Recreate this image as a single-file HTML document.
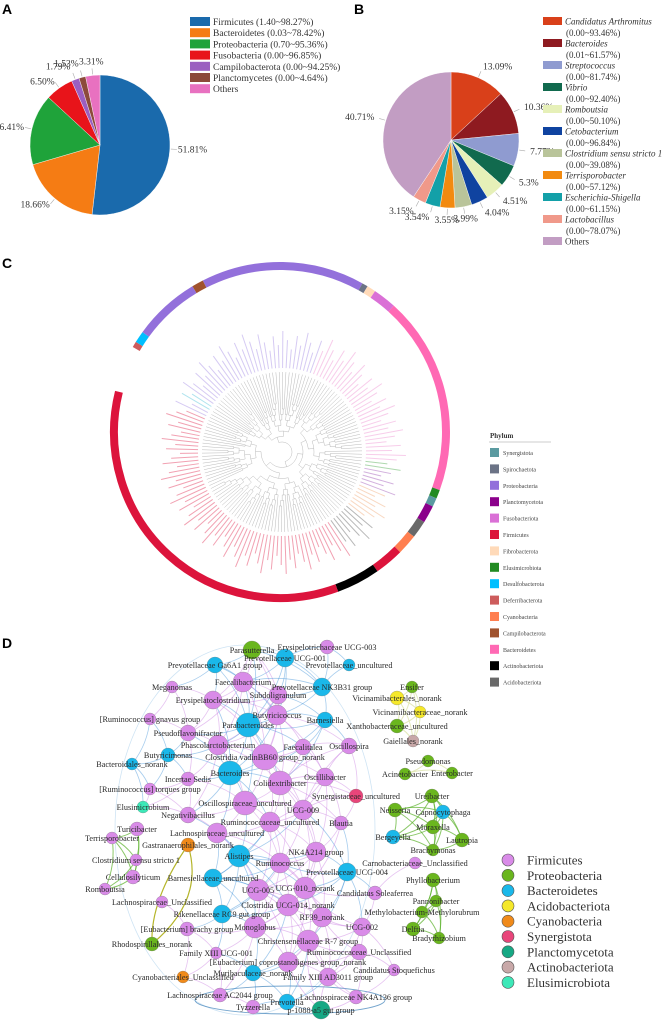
<!DOCTYPE html>
<html><head><meta charset="utf-8"><style>
html,body{margin:0;padding:0;background:#fff;}
svg{display:block;font-family:"Liberation Serif",serif;}
.pl{font-family:"Liberation Sans",sans-serif;font-weight:bold;font-size:14px;}
</style></head><body>
<svg id="fig" width="662" height="1031" viewBox="0 0 662 1031" xmlns="http://www.w3.org/2000/svg">
<text class="pl" x="2" y="14">A</text>
<text class="pl" x="354" y="14">B</text>
<text class="pl" x="2" y="268">C</text>
<text class="pl" x="2" y="648">D</text>
<g id="pieA"></g>
<g id="pieB"></g>
<g id="tree"></g>
<g id="net"></g>
</svg>
<script>
const NS="http://www.w3.org/2000/svg";
function mk(tag,attrs,parent,txt){const e=document.createElementNS(NS,tag);for(const k in attrs)e.setAttribute(k,attrs[k]);if(txt!==undefined)e.textContent=txt;parent.appendChild(e);return e;}

// ---------- Panel A data ----------
const aCategories=["Firmicutes (1.40~98.27%)","Bacteroidetes (0.03~78.42%)","Proteobacteria (0.70~95.36%)","Fusobacteria (0.00~96.85%)","Campilobacterota (0.00~94.25%)","Planctomycetes (0.00~4.64%)","Others"];
const aValues=[51.81,18.66,16.41,6.50,1.79,1.53,3.31];
const aLabels=["51.81%","18.66%","16.41%","6.50%","1.79%","1.53%","3.31%"];
const aColors=["#1a6aac","#f57c14","#1fa33a","#e8141a","#9b5fc0","#8c4a3a","#e871c0"];

// ---------- Panel B data ----------
const bCategories=["Candidatus Arthromitus","Bacteroides","Streptococcus","Vibrio","Romboutsia","Cetobacterium","Clostridium sensu stricto 1","Terrisporobacter","Escherichia-Shigella","Lactobacillus","Others"];
const bRanges=["(0.00~93.46%)","(0.01~61.57%)","(0.00~81.74%)","(0.00~92.40%)","(0.00~50.10%)","(0.00~96.84%)","(0.00~39.08%)","(0.00~57.12%)","(0.00~61.15%)","(0.00~78.07%)",""];
const bValues=[13.09,10.36,7.77,5.3,4.51,4.04,3.99,3.55,3.54,3.15,40.71];
const bLabels=["13.09%","10.36%","7.77%","5.3%","4.51%","4.04%","3.99%","3.55%","3.54%","3.15%","40.71%"];
const bColors=["#d9401a","#8e1a20","#8f9bd0","#116a4e","#e6f0b8","#0f43a0","#b9c49a","#f28a10","#13a0a8","#f0998a","#c29dc3"];

function pie(g,vals,cols,labels,cx,cy,r,labR,lineCol,names){
  const tot=vals.reduce((a,b)=>a+b,0);let a0=0;
  vals.forEach((v,i)=>{
    const a1=a0+v/tot*2*Math.PI;
    const p=(a)=>[cx+r*Math.sin(a),cy-r*Math.cos(a)];
    const [x0,y0]=p(a0),[x1,y1]=p(a1);
    const large=(a1-a0)>Math.PI?1:0;
    const s=mk("path",{d:`M${cx},${cy}L${x0},${y0}A${r},${r} 0 ${large} 1 ${x1},${y1}Z`,fill:cols[i],stroke:"#fff","stroke-width":0.4},g);
    
    
    const am=(a0+a1)/2;
    const lr=labR(i,am);
    mk("line",{x1:cx+(r+1)*Math.sin(am),y1:cy-(r+1)*Math.cos(am),x2:cx+(r+7)*Math.sin(am),y2:cy-(r+7)*Math.cos(am),stroke:lineCol,"stroke-width":0.6},g);
    const lx=cx+lr*Math.sin(am),ly=cy-lr*Math.cos(am)+3;
    const t=mk("text",{x:lx,y:ly,"font-size":"9.5",fill:"#333","text-anchor":Math.sin(am)>0.2?"start":(Math.sin(am)<-0.2?"end":"middle")},g,labels[i]);
    
    
    a0=a1;
  });
}
const gA=document.getElementById('pieA');
pie(gA,aValues,aColors,aLabels,100,145,70,(i,a)=>i<2?78:(i>=4?84:78),"#aaa",aCategories);
aCategories.forEach((c,i)=>{
  const y=17+i*11.2;
  const r=mk("rect",{x:190,y:y,width:20,height:9,fill:aColors[i]},gA);
  
  
  const t=mk("text",{x:213,y:y+8,"font-size":"9.5",fill:"#333"},gA,c);
  
  
});
const gB=document.getElementById('pieB');
pie(gB,bValues,bColors,bLabels,451,140,68,(i,a)=>80,"#aaa",bCategories);
bCategories.forEach((c,i)=>{
  const y=17+i*22;
  const r=mk("rect",{x:543,y:y,width:19,height:8,fill:bColors[i]},gB);
  
  
  const t=mk("text",{x:565,y:y+7.5,"font-size":"9",fill:"#333","font-style":c==="Others"?"normal":"italic"},gB,c);
  
  
  if(bRanges[i]){const t2=mk("text",{x:566,y:y+19,"font-size":"9",fill:"#333"},gB,bRanges[i]);
  
  }
});

// ---------- Panel C ----------
const phyla=["Synergistota","Spirochaetota","Proteobacteria","Planctomycetota","Fusobacteriota","Firmicutes","Fibrobacterota","Elusimicrobiota","Desulfobacterota","Deferribacterota","Cyanobacteria","Campilobacterota","Bacteroidetes","Actinobacteriota","Acidobacteriota"];
const phylaColors=["#5a9aa0","#6b7386","#9370db","#8b008b","#da70d6","#dc143c","#ffdab9","#228b22","#00bfff","#cd5c5c","#ff7f50","#a0522d","#ff69b4","#000000","#696969"];
const ringStart=[300,302,306,329,333,389,391,394,402,470,473,476,482,488,495,505,520];
const ringEnd  =[302,306,329,333,389,391,394,402,470,473,476,482,488,495,505,520,644];
const ringPhylum=[9,8,2,11,2,1,6,4,12,7,0,3,14,10,5,13,5];
const gT=document.getElementById('tree');
const RC=[280,432],RR=166;
function arcPath(cx,cy,r,d0,d1){const a0=d0*Math.PI/180,a1=d1*Math.PI/180;
  const x0=cx+r*Math.sin(a0),y0=cy-r*Math.cos(a0),x1=cx+r*Math.sin(a1),y1=cy-r*Math.cos(a1);
  return `M${x0},${y0}A${r},${r} 0 ${(d1-d0)>180?1:0} 1 ${x1},${y1}`;}
ringStart.forEach((s,i)=>{
  const p=mk("path",{d:arcPath(RC[0],RC[1],RR,s,ringEnd[i]),fill:"none",stroke:phylaColors[ringPhylum[i]],"stroke-width":8},gT);
  
  
});
const TC=[282,452];
const NL=150;
function leafCol(d){d=((d%360)+360)%360;
  if(d>=295||d<22)return d>298&&d<304?"#8fd8e8":"#c4b4ee";
  if(d<95)return "#f4b8e2";
  if(d<100)return "#8cc88c";
  if(d<112)return "#c090d0";
  if(d<130)return "#f6c8a8";
  if(d<145)return "#999";
  return "#ec7a92";}
const leafAng=[];for(let i=0;i<NL;i++)leafAng.push(i*360/NL-62);
const tl=mk("g",{stroke:"#a8a8a8","stroke-width":0.4,fill:"none"},gT);


function P(r,d){const a=d*Math.PI/180;return [TC[0]+r*Math.sin(a),TC[1]-r*Math.cos(a)];}
function build(lo,hi,depth){
  if(hi-lo===1){return {ang:leafAng[lo],r:80};}
  const span=hi-lo;let mid=lo+Math.max(1,Math.floor(span*((depth*7+lo)%5+3)/11));
  if(mid>=hi)mid=hi-1;
  const A=build(lo,mid,depth+1),B=build(mid,hi,depth+1);
  const r=Math.min(10+depth*5.5,76);
  const ang=(A.ang+B.ang)/2;
  [A,B].forEach(c=>{const p0=P(r,c.ang),p1=P(c.r,c.ang);mk("line",{x1:p0[0],y1:p0[1],x2:p1[0],y2:p1[1]},tl);});
  mk("path",{d:arcPath(TC[0],TC[1],r,A.ang,B.ang)},tl);
  return {ang,r};
}
build(0,NL,0);
leafAng.forEach((d,i)=>{
  const len=18+((i*37)%23);
  const p0=P(84,d),p1=P(84+len,d);
  const l=mk("line",{x1:p0[0],y1:p0[1],x2:p1[0],y2:p1[1],stroke:leafCol(d),"stroke-width":1,opacity:0.7},gT);
  
  
});
const lg=mk("g",{},gT);
mk("text",{x:490,y:438,"font-size":"7","font-weight":"bold",fill:"#333"},lg,"Phylum");
mk("line",{x1:489,y1:442,x2:551,y2:442,stroke:"#999","stroke-width":0.5},lg);
phyla.forEach((p,i)=>{const y=448+i*16.4;
  const r=mk("rect",{x:490,y:y,width:9,height:9,fill:phylaColors[i]},lg);
  
  const t=mk("text",{x:503,y:y+7,"font-size":"6",fill:"#444"},lg,p);
  });

// ---------- Panel D ----------
const groupNames=["Firmicutes","Proteobacteria","Bacteroidetes","Acidobacteriota","Cyanobacteria","Synergistota","Planctomycetota","Actinobacteriota","Elusimicrobiota"];
const groupColors=["#d98be8","#6ab61e","#1ab8ea","#f5e82a","#f08a1a","#e8457a","#16a884","#c8a8a8","#3de8b8"];
const nodes=[
["Parasutterella",252,650,9,1,"m"],["Prevotellaceae UCG-001",285,658,9,2,"m"],["Prevotellaceae Ga6A1 group",215,665,8,2,"m"],["Erysipelotrichaceae UCG-003",327,647,7,0,"m"],
["Meganomas",172,687,6,0,"m"],["Faecalibacterium",243,682,10,0,"m"],["Prevotellaceae NK3B31 group",322,687,9,2,"m"],["Subdoligranulum",278,695,9,0,"m"],
["Erysipelatoclostridium",213,700,9,0,"m"],["Butyricicoccus",277,715,10,0,"m"],["Barnesiella",325,720,8,2,"m"],["[Ruminococcus] gnavus group",150,719,6,0,"m"],
["Parabacteroides",248,725,12,2,"m"],["Pseudoflavonifractor",188,733,8,0,"m"],["Phascolarctobacterium",218,745,10,0,"m"],["Faecalitalea",303,747,8,0,"m"],
["Butyricimonas",168,755,7,2,"m"],["Clostridia vadinBB60 group_norank",265,757,13,0,"m"],["Bacteroidales_norank",132,764,6,2,"m"],["Bacteroides",230,773,12,2,"m"],
["Incertae Sedis",188,779,7,0,"m"],["Colidextribacter",280,783,12,0,"m"],["Oscillibacter",325,777,9,0,"m"],["[Ruminococcus] torques group",150,789,6,0,"m"],
["Elusimicrobium",143,807,6,8,"m"],["Oscillospiraceae_uncultured",245,803,12,0,"m"],["UCG-009",303,810,10,0,"m"],["Negativibacillus",188,815,8,0,"m"],
["Ruminococcaceae_uncultured",270,822,10,0,"m"],["Prevotellaceae_uncultured",349,665,6,2,"m"],["Oscillospira",349,746,8,0,"m"],["Synergistaceae_uncultured",356,796,7,5,"m"],
["Blautia",341,823,7,0,"m"],["NK4A214 group",316,852,10,0,"m"],["Prevotellaceae UCG-004",347,872,9,2,"m"],["Candidatus Soleaferrea",375,893,7,0,"m"],
["UCG-002",362,927,9,0,"m"],["Ruminococcaceae_Unclassified",359,952,8,0,"m"],["Candidatus Stoquefichus",394,970,6,0,"m"],["Lachnospiraceae NK4A136 group",356,997,7,0,"m"],
["p-1088-a5 gut group",321,1010,9,6,"m"],["Carnobacteriaceae_Unclassified",415,863,6,0,"m"],
["Lachnospiraceae_uncultured",217,833,10,0,"m"],["Gastranaerophilales_norank",188,845,7,4,"g"],["Alistipes",239,856,11,2,"m"],["Ruminococcus",280,863,10,0,"m"],
["Barnesiellaceae_uncultured",213,878,9,2,"m"],["UCG-005",258,890,11,0,"m"],["UCG-010_norank",305,888,11,0,"m"],["Lachnospiraceae_Unclassified",162,902,6,0,"m"],
["Clostridia UCG-014_norank",288,905,11,0,"m"],["Rikenellaceae RC9 gut group",222,914,9,2,"m"],["RF39_norank",322,917,10,0,"m"],["Monoglobus",255,927,11,0,"m"],
["[Eubacterium] brachy group",187,929,7,0,"m"],["Christensenellaceae R-7 group",308,941,11,0,"m"],["Rhodospirillales_norank",152,944,7,1,"g"],["Family XIII UCG-001",216,953,6,0,"m"],
["[Eubacterium] coprostanoligenes group_norank",288,962,10,0,"m"],["Muribaculaceae_norank",253,973,8,2,"m"],["Family XIII AD3011 group",328,977,9,0,"m"],["Cyanobacteriales_Unclassified",183,977,6,4,"m"],
["Lachnospiraceae AC2044 group",220,995,7,0,"m"],["Tyzzerella",253,1007,7,0,"m"],["Prevotella",287,1002,8,2,"m"],
["Turicibacter",137,829,7,0,"l"],["Terrisporobacter",112,838,6,0,"l"],["Clostridium sensu stricto 1",136,860,6,0,"l"],["Cellulosilyticum",133,877,7,0,"l"],["Romboutsia",105,889,6,0,"l"],
["Ensifer",412,687,6,1,"v"],["Vicinamibacterales_norank",397,698,7,3,"v"],["Vicinamibacteraceae_norank",420,712,6,3,"v"],["Xanthobacteraceae_uncultured",397,726,7,1,"v"],["Gaiellales_norank",413,741,6,7,"v"],
["Pseudomonas",428,761,6,1,"a"],["Acinetobacter",405,774,6,1,"a"],["Enterobacter",452,773,6,1,"a"],
["Ureibacter",432,796,7,1,"n"],["Neisseria",395,810,7,1,"n"],["Capnocytophaga",443,812,7,2,"n"],["Moraxella",433,827,7,1,"n"],["Bergeyella",393,837,7,2,"n"],["Lautropia",462,840,7,1,"n"],["Brachymonas",433,850,6,1,"n"],
["Phyllobacterium",433,880,7,1,"p"],["Pannonibacter",436,901,6,1,"p"],["Methylobacterium-Methylorubrum",422,912,6,1,"p"],["Delftia",413,929,7,1,"p"],["Bradyrhizobium",439,938,6,1,"p"]
];
const gN=document.getElementById('net');
const ge=mk("g",{fill:"none"},gN);
mk("ellipse",{cx:245,cy:830,rx:130,ry:185,stroke:"#cfe4f4","stroke-width":0.8},ge);
mk("ellipse",{cx:290,cy:1000,rx:95,ry:14,stroke:"#3a7fb8","stroke-width":0.9,opacity:0.7},ge);
mk("path",{d:"M188,845 Q150,900 152,944",stroke:"#b5b52a","stroke-width":1.2},ge);
mk("path",{d:"M188,845 Q205,900 152,944",stroke:"#b5b52a","stroke-width":1.2},ge);
for(let i=0;i<nodes.length;i++)for(let j=i+1;j<nodes.length;j++){
  const a=nodes[i],b=nodes[j];if(a[5]!==b[5]||a[5]==="g")continue;
  const d=Math.hypot(a[1]-b[1],a[2]-b[2]);
  const lim=a[5]==="m"?(a[3]+b[3]>17?80:55):60;
  if(d>lim)continue;
  let col=(a[4]===2||b[4]===2)?"#3a8fd8":"#c77be0";
  if(a[5]!=="m")col=(a[5]==="a"||a[5]==="v")?"#d8e0a0":"#5ab02a";
  const mx=(a[1]+b[1])/2+(b[2]-a[2])*0.15,my=(a[2]+b[2])/2-(b[1]-a[1])*0.15;
  mk("path",{d:`M${a[1]},${a[2]}Q${mx},${my} ${b[1]},${b[2]}`,stroke:col,"stroke-width":a[5]==="m"?0.8:1,opacity:a[5]==="m"?0.45:0.7},ge);
}
nodes.forEach(n=>{
  const c=mk("circle",{cx:n[1],cy:n[2],r:n[3],fill:groupColors[n[4]],stroke:"#777","stroke-width":0.3},gN);
  
  
});
nodes.forEach(n=>{
  const t=mk("text",{x:n[1],y:n[2]+3,"font-size":"8.2",fill:"#2a2a2a","text-anchor":"middle"},gN,n[0]);
  
  
});
const gl=mk("g",{},gN);
groupNames.forEach((g,i)=>{const y=860+i*15.3;
  const c=mk("circle",{cx:508,cy:y,r:6,fill:groupColors[i],stroke:"#555","stroke-width":0.6},gl);
  
  const t=mk("text",{x:527,y:y+4.5,"font-size":"13",fill:"#333"},gl,g);
  });
</script>
</body></html>
